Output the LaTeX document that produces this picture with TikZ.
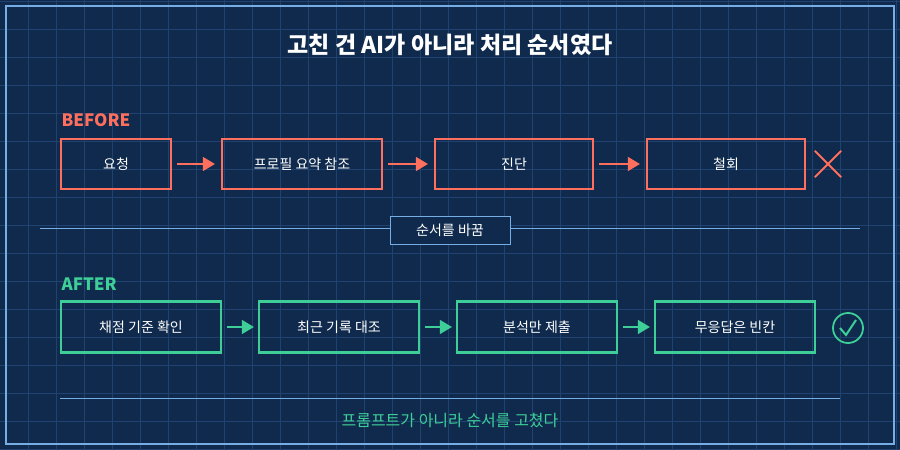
\documentclass[tikz,border=0pt]{standalone}
\usepackage{fontspec}
\setmainfont{Noto Sans CJK KR}
\usetikzlibrary{arrows.meta, positioning}
\definecolor{bgblue}{HTML}{0F2A4C}
\definecolor{gridblue}{HTML}{1F4270}
\definecolor{frameblue}{HTML}{75ADE4}
\definecolor{coral}{HTML}{FF6F5E}
\definecolor{mint}{HTML}{3ECF98}
\tikzset{
  before/.style={rectangle, draw=coral, line width=2.2pt, minimum height=50pt, text=white, font=\fontsize{14}{14}\selectfont},
  after/.style={rectangle, draw=mint, line width=2.2pt, minimum width=160pt, minimum height=51pt, text=white, font=\fontsize{14}{14}\selectfont},
  barrow/.style={draw=coral, line width=1.5pt, shorten <=5pt, shorten >=6pt, -{Triangle[length=12pt, width=14pt]}},
  aarrow/.style={draw=mint, line width=1.5pt, shorten <=5pt, shorten >=4pt, -{Triangle[length=12pt, width=14pt]}},
  heading/.style={anchor=west, font=\bfseries\fontsize{17}{17}\selectfont}
}
\begin{document}
\begin{tikzpicture}[x=1pt, y=-1pt]
\fill[bgblue] (0,0) rectangle (900,450);
\useasboundingbox (0,0) rectangle (900,450);
% grid
\foreach \i in {1,...,32} \draw[gridblue, line width=0.8pt] (28*\i,0) -- (28*\i,450);
\foreach \j in {0,...,16} \draw[gridblue, line width=0.8pt] (0,28*\j+1) -- (900,28*\j+1);
\draw[frameblue, line width=1.5pt] (6,6) rectangle (894,444);

\node (title) at (450,45) [text=white, font=\bfseries\fontsize{23}{23}\selectfont] {고친 건 AI가 아니라 처리 순서였다};

% before row
\node (beforelabel) at (58,120) [heading, text=coral] {BEFORE};
\node (req) at (116,164) [before, minimum width=110pt] {요청};
\node (profile) at (302,164) [before, minimum width=160pt] {프로필 요약 참조};
\node (diag) at (514,164) [before, minimum width=158pt] {진단};
\node (retract) at (726,164) [before, minimum width=158pt] {철회};
\draw[barrow] (req) -- (profile);
\draw[barrow] (profile) -- (diag);
\draw[barrow] (diag) -- (retract);
\node (cross) at (828,164) [minimum size=26pt] {};
\draw[coral, line width=1.8pt] (cross.north west) -- (cross.south east) (cross.north east) -- (cross.south west);

% separator
\coordinate (sepL) at (40,228);
\coordinate (sepR) at (860,228);
\draw[frameblue, line width=0.8pt] (sepL) -- (sepR);
\node (swap) at (450,230) [rectangle, draw=frameblue, fill=bgblue, minimum width=120pt, minimum height=28pt, text=white, font=\fontsize{14}{14}\selectfont] {순서를 바꿈};

% after row
\node (afterlabel) at (58,284) [heading, text=mint] {AFTER};
\node (criteria) at (141,327) [after] {채점 기준 확인};
\node (records) at (339,327) [after] {최근 기록 대조};
\node (analysis) at (537,327) [after] {분석만 제출};
\node (blank) at (735,327) [after] {무응답은 빈칸};
\draw[aarrow] (criteria) -- (records);
\draw[aarrow] (records) -- (analysis);
\draw[aarrow] (analysis) -- (blank);
\node (check) at (848,328) [circle, draw=mint, line width=1.8pt, minimum size=30pt] {};
\draw[mint, line width=2pt] (840,328) -- (846,335) -- (856,320);

\coordinate (botL) at (60,398);
\coordinate (botR) at (840,398);
\draw[frameblue, line width=0.8pt] (botL) -- (botR);
\node (footer) at (450,421) [text=mint, font=\fontsize{16}{16}\selectfont] {프롬프트가 아니라 순서를 고쳤다};
\end{tikzpicture}
\end{document}
